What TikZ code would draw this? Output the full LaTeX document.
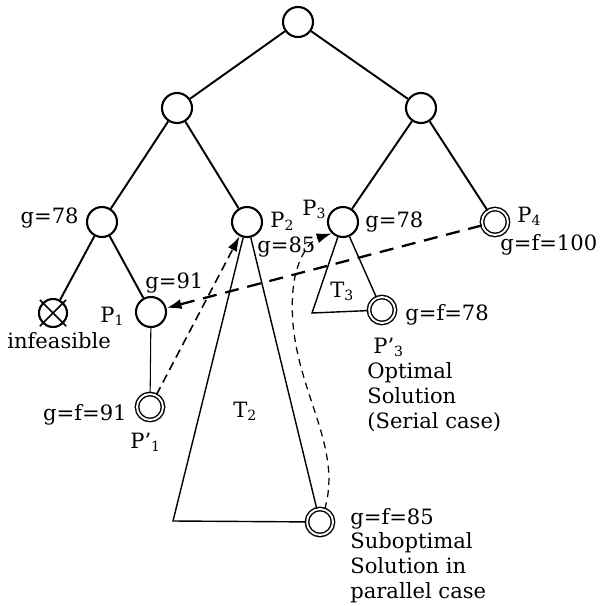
\documentclass[tikz,border=0pt]{standalone}
\usepackage{fontspec}
\setmainfont{DejaVu Serif}
\usetikzlibrary{positioning,arrows.meta}
\tikzset{
  vtx/.style={circle, draw, line width=1.2pt, minimum size=6mm, inner sep=0pt, fill=white},
  goalvtx/.style={vtx, double, line width=0.8pt, double distance=1.1pt, minimum size=5.2mm},
  treeline/.style={line width=1.1pt},
  subtree/.style={line width=0.8pt},
  lbl/.style={font=\fontsize{12}{14}\selectfont, inner sep=0pt, align=left},
  jump/.style={dashed, -{Latex[length=3mm,width=2mm]}},
}
\newcommand{\Psub}[2]{#1\textsubscript{#2}}

\begin{document}
\begin{tikzpicture}[x=0.02cm,y=-0.02cm]
  \useasboundingbox (0,0) rectangle (602,606);
  % search tree
  \node[vtx] (root) at (298,22) {};
  \node[vtx] (a) at (177,108) {};
  \node[vtx] (b) at (421,108) {};
  \node[vtx] (a1) at (102,222) {};
  \node[vtx] (p2) at (247,222) {};
  \node[vtx] (p3) at (343,222) {};
  \node[goalvtx] (p4) at (495,222) {};
  \node[vtx, minimum size=5.6mm] (dead) at (53,313) {};
  \node[vtx] (p1) at (151,312) {};
  \node[goalvtx] (p1s) at (150,407) {};
  \node[goalvtx] (p3s) at (382,310) {};
  \node[goalvtx] (p2s) at (320,522) {};
  \coordinate (t2) at (173,521);
  \coordinate (t3) at (312,313);
  \draw[treeline] (root) -- (a);
  \draw[treeline] (root) -- (b);
  \draw[treeline] (a) -- (a1);
  \draw[treeline] (a) -- (p2);
  \draw[treeline] (b) -- (p3);
  \draw[treeline] (b) -- (p4);
  \draw[treeline] (a1) -- (dead);
  \draw[treeline] (a1) -- (p1);
  \draw[line width=0.6pt] (p1) -- (p1s);
  \draw[line width=1pt, shorten <=-2pt, shorten >=-2pt] (dead.45) -- (dead.225);
  \draw[line width=1pt, shorten <=-2pt, shorten >=-2pt] (dead.135) -- (dead.315);
  % subtrees T2 and T3
  \draw[subtree] (p2) -- (t2) -- (p2s) -- (p2);
  \draw[subtree] (p3) -- (t3) -- (p3s) -- (p3);
  % search jumps
  \draw[jump, line width=0.9pt, dash pattern=on 5pt off 3pt] (p1s) -- (p2);
  \draw[jump, line width=1.3pt, dash pattern=on 8pt off 5pt] (p4) -- (p1);
  \draw[jump, line width=0.7pt, dash pattern=on 4pt off 3pt] (p2s.70)
    .. controls (345,440) and (285,380) .. (293,290)
    .. controls (296,256) and (312,240) .. (p3.225);
  % labels
  \node[lbl, anchor=base east] at (79,223) {g=78};
  \node[lbl, anchor=base west] at (270,227) {\Psub{P}{2}};
  \node[lbl, anchor=base west] at (257,252) {g=85};
  \node[lbl, anchor=base west] at (302,215) {\Psub{P}{3}};
  \node[lbl, anchor=base west] at (365,227) {g=78};
  \node[lbl, anchor=base west] at (517,222) {\Psub{P}{4}};
  \node[lbl, anchor=base west] at (500,250) {g=f=100};
  \node[lbl, anchor=base west] at (145,288) {g=91};
  \node[lbl, anchor=base west] at (100,322) {\Psub{P}{1}};
  \node[lbl, anchor=base west] at (7,348) {infeasible};
  \node[lbl, anchor=base east] at (127,420) {g=f=91};
  \node[lbl, anchor=base west] at (130,448) {\Psub{P'}{1}};
  \node[lbl, anchor=base west] at (233,417) {\Psub{T}{2}};
  \node[lbl, anchor=base west] at (330,297) {\Psub{T}{3}};
  \node[lbl, anchor=base west] at (405,320) {g=f=78};
  \node[lbl, anchor=base west] at (373,353) {\Psub{P'}{3}};
  \node[lbl, anchor=base west] at (367,428) {Optimal\\Solution\\(Serial case)};
  \node[lbl, anchor=base west] at (350,598) {g=f=85\\Suboptimal\\Solution in\\parallel case};
\end{tikzpicture}
\end{document}
